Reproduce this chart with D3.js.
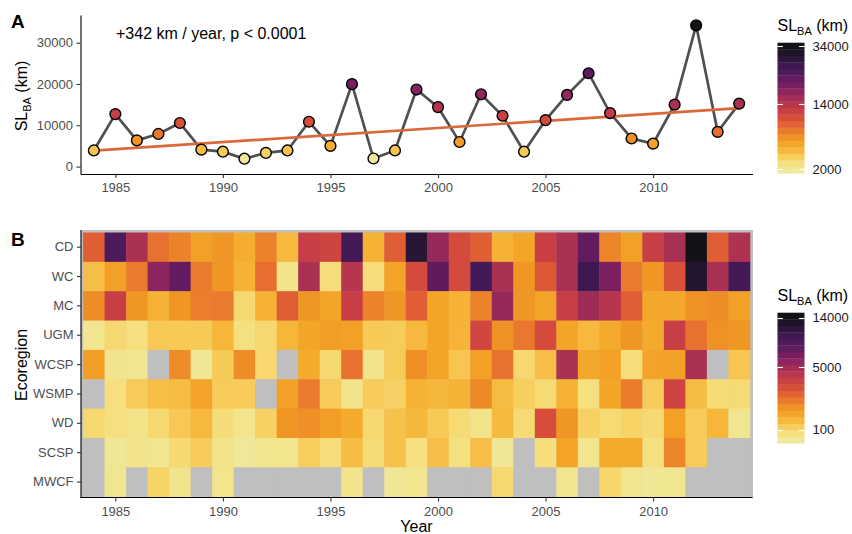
<!DOCTYPE html>
<meta charset="utf-8">
<style>
body { margin: 0; background: #fff; }
text { font-family: "Liberation Sans", Arial, sans-serif; }
.axis text { fill: #4d4d4d; font-size: 13px; }
.axis line { stroke: #333; stroke-width: 1.1px; }
.axis path { stroke: #000; stroke-width: 1.1px; }
.ttl { font-size: 16px; fill: #000; }
.lab { font-size: 19px; font-weight: bold; fill: #000; }
.leg { font-size: 13px; fill: #1a1a1a; }
</style>
<body>
<script src="https://d3js.org/d3.v7.min.js"></script>
<script>

// years shared by both panels
var years = [1984, 1985, 1986, 1987, 1988, 1989, 1990, 1991, 1992, 1993,
             1994, 1995, 1996, 1997, 1998, 1999, 2000, 2001, 2002, 2003,
             2004, 2005, 2006, 2007, 2008, 2009, 2010, 2011, 2012, 2013, 2014];

// panel A : total SL_BA (km) per year
var slba = [3900, 12700, 6350, 7900, 10550, 4100, 3600, 1900, 3300, 3900,
            10850, 5000, 19950, 1950, 3900, 18650, 14400, 5950, 17500, 12300,
            3600, 11250, 17350, 22600, 12950, 6800, 5550, 15000, 34200, 8400, 15250];

// trend line end points
var trendYears = [1984, 2014];
var trendKm = [3870, 14130];

// panel B : SL_BA per ecoregion (null = no data)
var ecoregions = ["CD", "WC", "MC", "UGM", "WCSP", "WSMP", "WD", "SCSP", "MWCF"];
var cd   = [2090, 9020, 4580, 1630, 1270, 745, 920, 520, 1270, 360, 3385, 3050, 9710, 455, 2090, 11930, 5420, 2730, 2090, 455, 650, 3385, 4580, 7720, 1200, 745, 3385, 4700, 14400, 2090, 4400];
var wc   = [300, 745, 1445, 5870, 7720, 1445, 920, 455, 1700, 20, 4580, 60, 4110, 60, 700, 2730, 7900, 2730, 9710, 4580, 920, 2256, 4580, 10190, 6520, 1445, 920, 2490, 12460, 4580, 9710];
var mc   = [1105, 3385, 920, 455, 920, 1350, 1445, 90, 455, 2090, 920, 650, 3385, 1270, 920, 2090, 650, 455, 1270, 5420, 920, 700, 3385, 5075, 4110, 2090, 600, 600, 1000, 1105, 745];
var ugm  = [10, 90, 43, 210, 195, 195, 400, 40, 90, 400, 650, 800, 745, 200, 186, 360, 650, 420, 2900, 1000, 1500, 2730, 650, 360, 565, 920, 580, 3385, 1630, 1000, 920];
var wcsp = [780, 13, 8, null, 1105, 3, 195, 1105, 100, null, 565, 90, 1600, 15, 186, 1050, 650, 240, 745, 1630, 90, 300, 4580, 600, 745, 60, 700, 745, 4580, null, 240];
var wsmp = [null, 43, 186, 300, 320, 700, 186, 180, null, 720, 1445, 186, 15, 186, 140, 455, 380, 440, 1150, 340, 160, 80, 455, 43, 650, 1400, 186, 3050, 340, 70, 80];
var wd   = [90, 43, 20, 90, 210, 360, 65, 12, 140, 920, 1050, 800, 565, 90, 260, 380, 195, 75, 20, 350, 75, 2600, 920, 140, 80, 130, 85, 745, 186, 400, 8];
var scsp = [null, 4, 13, 10, 85, 180, 18, 1, 8, 12, 175, 60, 320, 75, 270, 45, 300, 40, 300, 4, null, 55, 680, 12, 565, 565, 45, 1200, 186, null, null];
var mwcf = [null, 8, null, 120, 15, null, 12, null, null, null, null, null, 15, null, 2, 10, null, null, null, 95, null, null, 10, null, 110, 10, 3, 8, null, null, null];
var heatRows = [cd, wc, mc, ugm, wcsp, wsmp, wd, scsp, mwcf];

// tick labels
var yearTicks = [1985, 1990, 1995, 2000, 2005, 2010];
var kmTicks = [0, 10000, 20000, 30000];
var legTicksA = [2000, 14000, 34000];
var legTicksB = [100, 5000, 14000];

// reversed inferno-like palette as it appears in the figure
var palette = ["#eee99c", "#f5e283", "#f8d263", "#f6bb41", "#f4aa29", "#f19822",
               "#ec812b", "#e66b30", "#dd5536", "#d1453e", "#c33c48", "#b03350",
               "#9b2b58", "#862360", "#701c60", "#5c1a5e", "#4a1a5c", "#3a1850",
               "#2a1638", "#1e1426", "#131317"];
var interp = d3.interpolateRgbBasis(palette);
var naColor = "#bfbfbf";

var svg = d3.select("body").append("svg")
    .attr("width", 852)
    .attr("height", 534);

// shared x scale
var x = d3.scaleLinear().domain([1983.38, 2014.62]).range([80.5, 752.5]);

// ---------- panel A ----------
var y = d3.scaleLinear().domain([-1800, 36700]).range([174, 15]);
var colA = d3.scaleSequentialSqrt(interp).domain(d3.extent(slba));

var dataA = years.map(function(yr, i) { return {year: yr, value: slba[i]}; });

svg.append("g")
    .attr("class", "axis")
    .attr("transform", "translate(0,174)")
    .call(d3.axisBottom(x).tickValues(yearTicks).tickFormat(d3.format("d"))
      .tickSize(4).tickSizeOuter(0).tickPadding(5));

svg.append("g")
    .attr("class", "axis")
    .attr("transform", "translate(80.5,0)")
    .call(d3.axisLeft(y).tickValues(kmTicks).tickFormat(d3.format("d"))
      .tickSize(4).tickSizeOuter(0).tickPadding(3.5));

svg.append("path")
    .datum(dataA)
    .attr("fill", "none")
    .attr("stroke", "#505050")
    .attr("stroke-width", 2.7)
    .attr("d", d3.line().x(function(d) { return x(d.year); }).y(function(d) { return y(d.value); }));

svg.append("path")
    .datum(trendYears.map(function(yr, i) { return {year: yr, value: trendKm[i]}; }))
    .attr("fill", "none")
    .attr("stroke", "#d9693b")
    .attr("stroke-width", 2.7)
    .attr("d", d3.line().x(function(d) { return x(d.year); }).y(function(d) { return y(d.value); }));

svg.append("g").selectAll("circle")
    .data(dataA)
  .enter().append("circle")
    .attr("cx", function(d) { return x(d.year); })
    .attr("cy", function(d) { return y(d.value); })
    .attr("r", 5.4)
    .attr("fill", function(d) { return colA(d.value); })
    .attr("stroke", "#000")
    .attr("stroke-width", 1.4);

svg.append("text")
    .attr("x", 116).attr("y", 39)
    .style("font-size", "16px")
    .text("+342 km / year, p < 0.0001");

svg.append("text").attr("class", "lab").attr("x", 11).attr("y", 28).text("A");

function slTitle(sel) {
  sel.append("tspan").text("SL");
  sel.append("tspan").attr("dy", 4).style("font-size", "11px").text("BA");
  sel.append("tspan").attr("dy", -4).text(" (km)");
}

svg.append("text").attr("class", "ttl")
    .attr("transform", "translate(27,96) rotate(-90)")
    .attr("text-anchor", "middle")
    .call(slTitle);

// ---------- panel B ----------
var yb = d3.scaleBand().domain(ecoregions).range([232.5, 496.7]);
var colB = d3.scaleSequentialSqrt(interp).domain([0, 14400]);

svg.append("rect")
    .attr("x", 81).attr("y", 230)
    .attr("width", 753 - 81).attr("height", 498 - 230)
    .attr("fill", naColor);

var cells = [];
heatRows.forEach(function(row, r) {
  row.forEach(function(v, i) {
    cells.push({eco: ecoregions[r], year: years[i], value: v});
  });
});

svg.append("g").selectAll("rect")
    .data(cells)
  .enter().append("rect")
    .attr("x", function(d) { return x(d.year - 0.5); })
    .attr("y", function(d) { return yb(d.eco); })
    .attr("width", x(1) - x(0) + 0.4)
    .attr("height", yb.bandwidth() + 0.4)
    .attr("fill", function(d) { return d.value == null ? naColor : colB(d.value); });

svg.append("g")
    .attr("class", "axis")
    .attr("transform", "translate(0,497.5)")
    .call(d3.axisBottom(x).tickValues(yearTicks).tickFormat(d3.format("d"))
      .tickSize(4).tickSizeOuter(0).tickPadding(5))
    .select(".domain").attr("d", "M80.5,0H752.5");

svg.append("g")
    .attr("class", "axis")
    .attr("transform", "translate(81,0)")
    .call(d3.axisLeft(yb).tickSize(4).tickSizeOuter(0).tickPadding(3.5))
    .select(".domain").attr("d", "M0,230V498");

svg.append("text").attr("class", "lab").attr("x", 11).attr("y", 246).text("B");

svg.append("text").attr("class", "ttl")
    .attr("transform", "translate(27,365) rotate(-90)")
    .attr("text-anchor", "middle")
    .text("Ecoregion");

svg.append("text").attr("class", "ttl")
    .attr("x", 416.5).attr("y", 532)
    .attr("text-anchor", "middle")
    .text("Year");

// ---------- colour bars ----------
function colourbar(scale, ticks, top, titleY) {
  var nbin = 20, left = 777.5, w = 27, h = 130.6, bh = h / nbin;
  var dom = scale.domain();
  var pos = d3.scaleSqrt().domain(dom).range([top + h - bh / 2, top + bh / 2]);
  var g = svg.append("g");
  var bins = d3.range(nbin).map(function(i) {
    return pos.invert(top + h - bh / 2 - i * bh);
  });
  g.selectAll("rect").data(bins).enter().append("rect")
      .attr("x", left)
      .attr("y", function(d, i) { return top + h - (i + 1) * bh; })
      .attr("width", w)
      .attr("height", bh + 0.3)
      .attr("fill", function(d) { return scale(d); });
  ticks.forEach(function(t) {
    var p = Math.round(pos(t)) + 0.5;
    g.append("line").attr("x1", left).attr("x2", left + 5.4).attr("y1", p).attr("y2", p)
        .attr("stroke", "#fff").attr("stroke-width", 1.1);
    g.append("line").attr("x1", left + w - 5.4).attr("x2", left + w).attr("y1", p).attr("y2", p)
        .attr("stroke", "#fff").attr("stroke-width", 1.1);
    g.append("text").attr("class", "leg")
        .attr("x", 812.5).attr("y", pos(t)).attr("dy", "0.36em")
        .text(t);
  });
  svg.append("text").attr("class", "ttl").attr("x", 777.5).attr("y", titleY).call(slTitle);
}

colourbar(colA, legTicksA, 42.7, 31);
colourbar(colB, legTicksB, 312.7, 301);

</script>
</body>
